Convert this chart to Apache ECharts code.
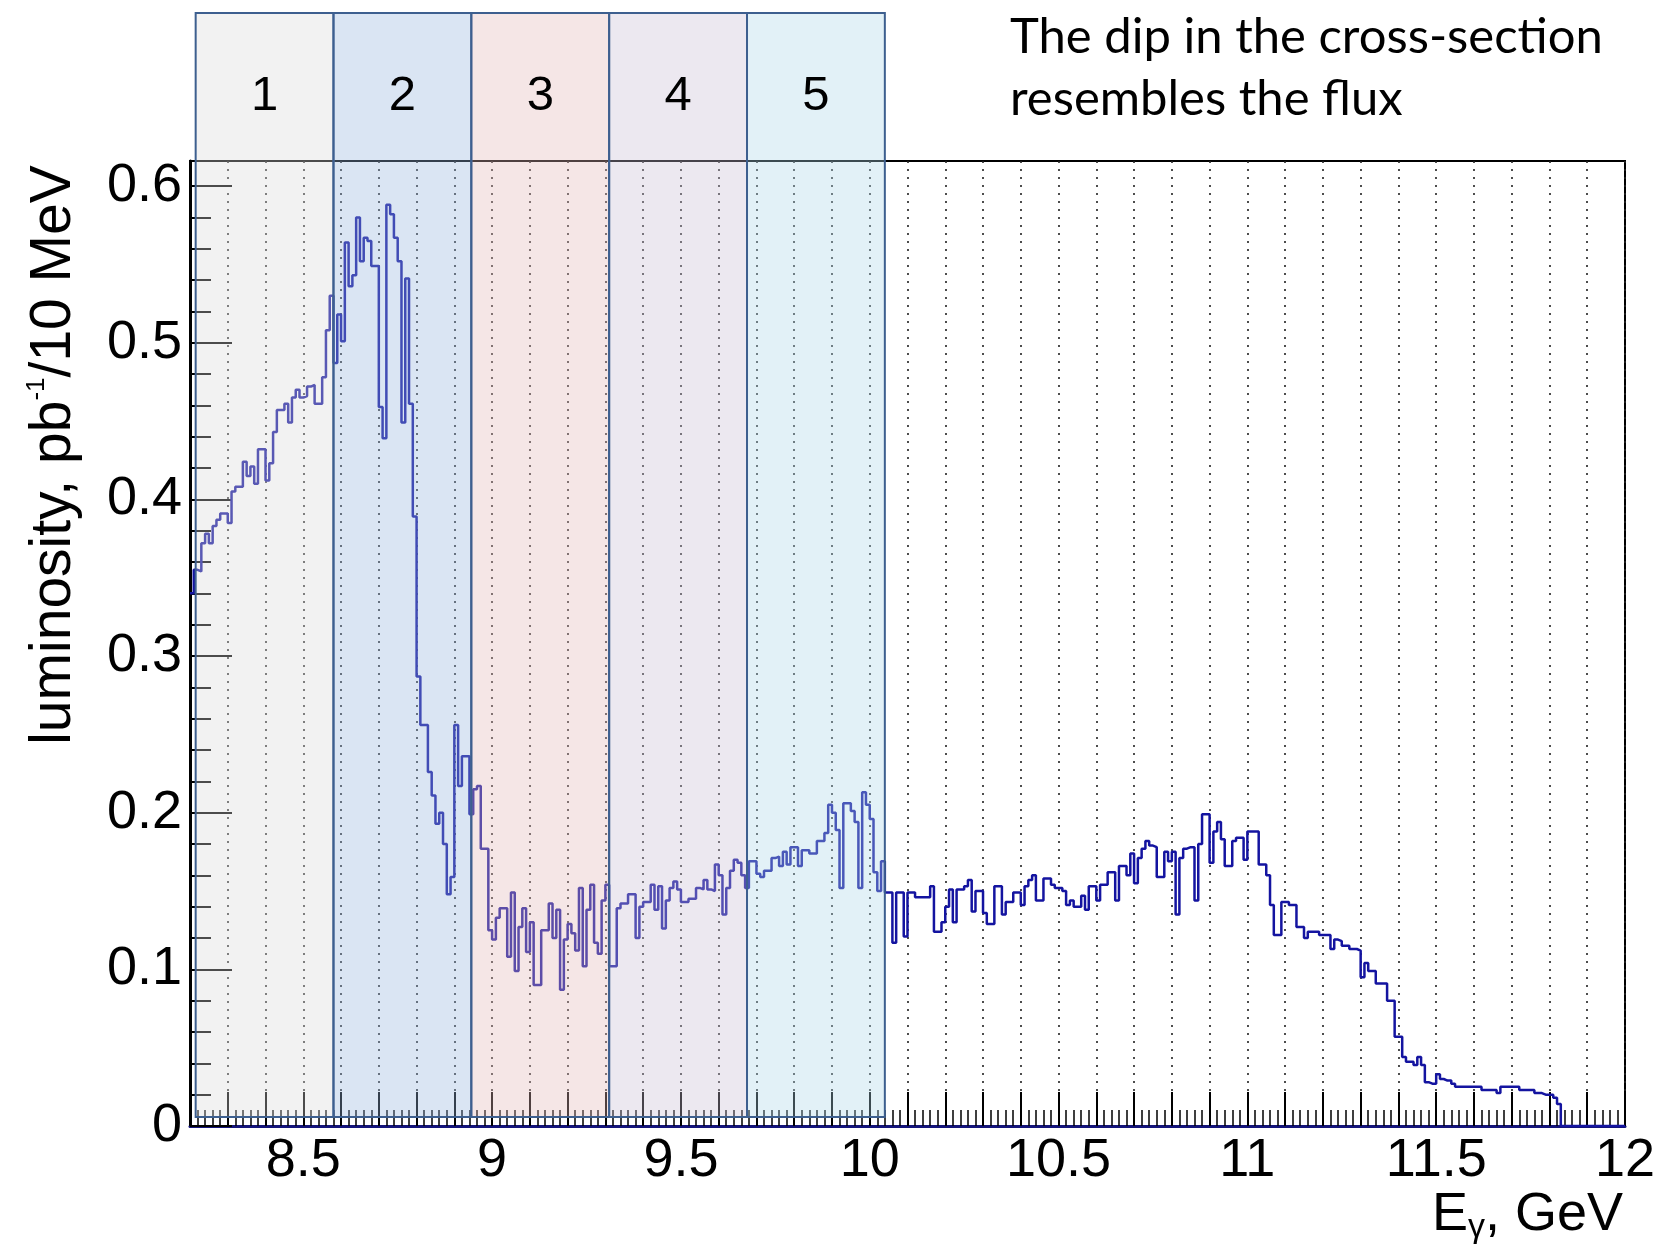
<!DOCTYPE html>
<html><head><meta charset="utf-8">
<script src="https://cdn.jsdelivr.net/npm/echarts@6/dist/echarts.min.js"></script>
<style>html,body{margin:0;padding:0;background:#fff}#c{width:1658px;height:1249px}</style>
</head><body><div id="c"></div>
<script>
// ---- data (luminosity per 10 MeV bin, starting at 8.20 GeV) ----
const binStart = 8.2, binWidth = 0.01;
const lumRegion1 = [0.340,0.355,0.354,0.372,0.378,0.372,0.383,0.387,0.391,0.391,0.385,
  0.405,0.408,0.408,0.424,0.415,0.421,0.410,0.432,0.432,0.412,
  0.423,0.443,0.457,0.457,0.461,0.449,0.465,0.470,0.465,0.466,
  0.472,0.473,0.461,0.461,0.478,0.508,0.530];
const lumRegion2 = [0.487,0.518,0.501,
  0.564,0.536,0.543,0.580,0.552,0.567,0.565,0.549,0.549,0.459,
  0.439,0.588,0.582,0.567,0.552,0.449,0.541,0.461,0.389,0.287,
  0.256,0.256,0.226,0.211,0.193,0.200,0.180,0.148,0.159,0.256,
  0.217,0.236,0.236,0.199];
const lumRegion3 = [0.215,0.217,0.177,0.177,0.125,0.119,
  0.133,0.139,0.139,0.108,0.149,0.099,0.127,0.139,0.111,0.130,
  0.090,0.090,0.125,0.125,0.142,0.120,0.138,0.087,0.119,0.129,
  0.123,0.112,0.152,0.102,0.138,0.154,0.117,0.110,0.144,0.154];
const lumRegion4 = [0.102,0.102,0.139,0.142,0.142,0.148,0.148,0.120,0.140,0.143,
  0.143,0.154,0.138,0.153,0.126,0.144,0.152,0.156,0.151,0.143,
  0.143,0.145,0.145,0.152,0.151,0.157,0.151,0.150,0.167,0.160,
  0.135,0.152,0.163,0.170,0.168,0.160,0.152];
const lumRegion5 = [0.169,0.169,0.161,
  0.159,0.163,0.163,0.171,0.172,0.166,0.175,0.167,0.178,0.178,
  0.166,0.176,0.176,0.174,0.174,0.182,0.182,0.187,0.205,0.200,
  0.189,0.152,0.206,0.206,0.201,0.194,0.152,0.213,0.205,0.196,
  0.162,0.150,0.169];
const lumHigh1 = [0.149,0.149,0.117,0.149,0.149,0.121,0.149,
  0.149,0.146,0.146,0.146,0.146,0.153,0.124,0.124,0.130,0.140,
  0.151,0.130,0.151,0.151,0.153,0.157,0.137,0.150,0.150,0.136,
  0.129,0.129,0.153,0.153,0.135,0.143,0.143,0.149,0.149,0.141,
  0.153,0.157,0.160,0.144,0.144,0.158,0.158,0.154,0.152,0.152,
  0.150,0.141,0.144,0.140,0.140,0.147,0.138,0.153,0.153,0.144];
const lumHigh2 = [0.154,0.154,0.162,0.162,0.144,0.166,0.166,0.160,0.174,0.155,
  0.171,0.177,0.182,0.179,0.178,0.159,0.159,0.175,0.169,0.175,
  0.135,0.171,0.177,0.178,0.178,0.144,0.180,0.199,0.199,0.168,
  0.188,0.194,0.183,0.166,0.166,0.182,0.184,0.184,0.170,0.188,
  0.188,0.188,0.167,0.167,0.160,0.141,0.122,0.122,0.143,0.143];
const lumTail = [0.141,0.141,0.127,0.127,0.120,0.124,0.124,0.124,0.122,0.122,
  0.122,0.113,0.119,0.118,0.115,0.115,0.113,0.113,0.112,0.095,
  0.104,0.099,0.099,0.091,0.091,0.091,0.080,0.080,0.057,0.057,
  0.044,0.041,0.041,0.039,0.044,0.039,0.028,0.027,0.027,0.033,
  0.030,0.029,0.029,0.027,0.025,0.025,0.025,0.025,0.025,0.025,
  0.025,0.023,0.023,0.023,0.023,0.021,0.025,0.025,0.025,0.025,
  0.025,0.023,0.023,0.023,0.023,0.021,0.021,0.020,0.020,0.020,
  0.018,0.014,
  0,0,0,0,0,0,0,0,0,0,0,0,0,0,0,0,0];
const xTickLabels = ['8.5','9','9.5','10','10.5','11','11.5','12'];
const yTickLabels = ['0','0.1','0.2','0.3','0.4','0.5','0.6'];
const bandEdges = [8.215, 8.58, 8.945, 9.31, 9.675, 10.04];
const bandLabels = ['1','2','3','4','5'];
const bandColors = ['rgba(218,218,218,0.35)','rgba(149,181,221,0.35)','rgba(226,184,184,0.35)',
                    'rgba(201,189,212,0.35)','rgba(172,215,232,0.35)'];

const lum = [].concat(lumRegion1, lumRegion2, lumRegion3, lumRegion4, lumRegion5, lumHigh1, lumHigh2, lumTail);
const histData = lum.map((v, k) => [Number((binStart + k * binWidth).toFixed(2)), v]);
histData.push([Number((binStart + lum.length * binWidth).toFixed(2)), 0]);
const bandData = bandLabels.map((l, i) => [bandEdges[i], bandEdges[i + 1], 0]);

const BOX_TOP = 13, BOX_BOTTOM = 1117, BOX_LABEL_Y = 96;
const AX_FONT = 'Liberation Sans';

const chart = echarts.init(document.getElementById('c'), null, {renderer: 'canvas'});
chart.setOption({
  animation: false,
  backgroundColor: '#fff',
  grid: {left: 190, right: 33, top: 161, bottom: 123, show: true, borderColor: '#000', borderWidth: 2,
         backgroundColor: 'transparent', containLabel: false, outerBoundsMode: 'none'},
  xAxis: {
    type: 'value', min: 8.2, max: 12, interval: 0.1,
    axisLine: {show: true, onZero: false, lineStyle: {color: '#14147a', width: 3}},
    axisTick: {show: true, inside: true, length: 34, lineStyle: {color: '#000', width: 2}},
    minorTick: {show: true, splitNumber: 5, length: 16, lineStyle: {color: '#000', width: 1.5}},
    splitLine: {show: true, lineStyle: {color: '#222', width: 1.6, type: [2, 6]}},
    axisLabel: {show: true, margin: 8, fontSize: 54, fontFamily: AX_FONT, color: '#000', hideOverlap: false,
      formatter: v => { const s = String(Number(v.toFixed(2))); return xTickLabels.includes(s) ? s : ''; }}
  },
  yAxis: [{
    type: 'value', min: 0, max: 0.616, interval: 0.1, position: 'left',
    axisLine: {show: true, lineStyle: {color: '#000', width: 3}},
    axisTick: {show: true, inside: true, length: 42, lineStyle: {color: '#000', width: 2}},
    splitLine: {show: false},
    axisLabel: {show: true, margin: 8, fontSize: 54, fontFamily: AX_FONT, color: '#000', showMaxLabel: false,
      formatter: v => { const s = String(Number(v.toFixed(3))); return yTickLabels.includes(s) ? s : ''; }}
  }, {
    type: 'value', min: 0, max: 0.616, interval: 0.02, position: 'left', offset: 0,
    axisLine: {show: false},
    axisTick: {show: true, inside: true, length: 21, lineStyle: {color: '#000', width: 2}},
    splitLine: {show: false},
    axisLabel: {show: false}
  }],
  series: [{
    type: 'line', name: 'luminosity', data: histData, step: 'end',
    xAxisIndex: 0, yAxisIndex: 0,
    symbol: 'none', showSymbol: false, z: 3,
    lineStyle: {color: '#1414a0', width: 2.5}
  }, {
    type: 'custom', name: 'bands', data: bandData, clip: false, z: 5,
    xAxisIndex: 0, yAxisIndex: 0,
    encode: {x: [0, 1], y: 2},
    renderItem: (params, api) => {
      const i = params.dataIndex;
      const x0 = api.coord([api.value(0), 0])[0];
      const x1 = api.coord([api.value(1), 0])[0];
      return {type: 'group', children: [
        {type: 'rect', shape: {x: x0, y: BOX_TOP, width: x1 - x0, height: BOX_BOTTOM - BOX_TOP},
         style: {fill: bandColors[i], stroke: '#3d5f8f', lineWidth: 2}},
        {type: 'text', style: {text: bandLabels[i], x: (x0 + x1) / 2, y: BOX_LABEL_Y, align: 'center',
         verticalAlign: 'middle', fontSize: 49, fontFamily: AX_FONT, fill: '#000'}}
      ]};
    }
  }],
  graphic: [
    {type: 'text', x: 54, y: 455, rotation: Math.PI / 2, z: 10,
     style: {text: 'luminosity, pb{sup|-1}/10 MeV', x: 0, y: 0, align: 'center', verticalAlign: 'middle',
       fontSize: 57, fontFamily: AX_FONT, lineHeight: 60, fill: '#000',
       rich: {sup: {fontSize: 26, fontFamily: AX_FONT, lineHeight: 6, verticalAlign: 'top', fill: '#000'}}}},
    {type: 'text', x: 1623, y: 1215, z: 10,
     style: {text: 'E{sub|γ}, GeV', x: 0, y: 0, align: 'right', verticalAlign: 'middle',
       fontSize: 54, fontFamily: AX_FONT, lineHeight: 60, fill: '#000',
       rich: {sub: {fontSize: 34, fontFamily: AX_FONT, lineHeight: 32, verticalAlign: 'bottom', fill: '#000'}}}},
    {type: 'text', x: 1010, y: 37, z: 10,
     style: {text: 'The dip in the cross-section', align: 'left', verticalAlign: 'middle',
       fontSize: 49, fontFamily: 'Lato', fill: '#000'}},
    {type: 'text', x: 1010, y: 99, z: 10,
     style: {text: 'resembles the flux', align: 'left', verticalAlign: 'middle',
       fontSize: 49, fontFamily: 'Lato', fill: '#000'}}
  ]
});
</script>
</body></html>
